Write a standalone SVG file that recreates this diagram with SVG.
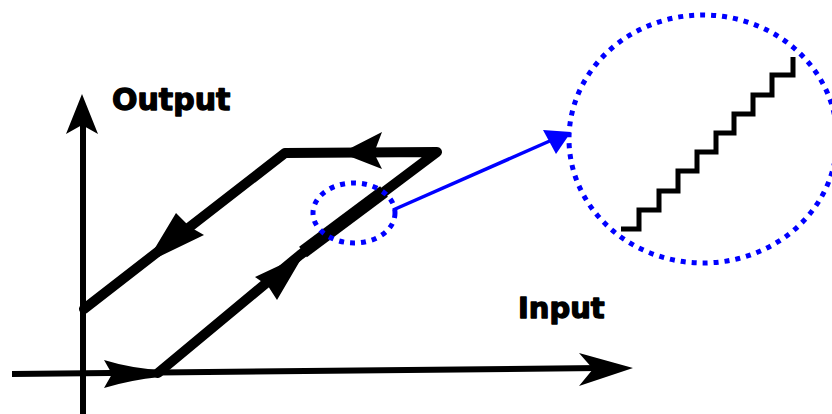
<svg xmlns="http://www.w3.org/2000/svg" width="832" height="414" viewBox="0 0 832 414">
  <style>
    .axis { stroke: #000; stroke-width: 6; fill: none; }
    .loop { stroke: #000; stroke-width: 10; fill: none; stroke-linejoin: round; stroke-linecap: round; }
    .head { fill: #000; stroke: none; }
    .dots { stroke: #0000ff; stroke-width: 5; fill: none; stroke-dasharray: 5 6; }
    .label { font-family: "DejaVu Sans", "Liberation Sans", sans-serif; font-weight: bold; fill: #000; stroke: #000; stroke-width: 1.3; stroke-linejoin: round; }
  </style>
  <rect width="832" height="414" fill="#fff"/>

  <g id="axes">
    <line class="axis" x1="83" y1="414" x2="83" y2="120"/>
    <polygon class="head" points="82,94 98,134 82,125 66,134"/>
    <line class="axis" x1="12" y1="374" x2="600" y2="368"/>
    <polygon class="head" points="633,368 579,386 593,369 579,353"/>
  </g>

  <g id="labels">
    <text class="label" x="112" y="110" font-size="30">Output</text>
    <text class="label" x="518" y="318" font-size="29">Input</text>
  </g>

  <g id="loop">
    <path class="loop" d="M158,373 L300,255 L437,152 L285,153 L84,309"/>
    <line x1="303" y1="252" x2="384" y2="191.5" stroke="#000" stroke-width="13"/>
    <path class="head" d="M104,360 Q130,368 160,370 L160,377 Q130,380 104,388 L112,374 Z"/>
    <path class="head" d="M304,254 L277,300 L268,286 L255,277 Z"/>
    <path class="head" d="M146,263 L176,213 L190,227 L204,235 Z"/>
    <path class="head" d="M341,153 L382,132 L374,153 L382,169 Z"/>
  </g>

  <g id="callout">
    <ellipse class="dots" cx="354" cy="213" rx="41" ry="30"/>
    <line x1="393" y1="210" x2="552" y2="140" stroke="#0000ff" stroke-width="3.5"/>
    <polygon points="571,132 543,130 556,154" fill="#0000ff"/>
    <ellipse class="dots" cx="703" cy="139" rx="134" ry="124"/>
    <path d="M621,229 H639 V210 H659 V191 H678 V171 H697 V152 H716 V133 H734 V114 H753 V95 H772 V75 H793 V57" stroke="#000" stroke-width="5" fill="none"/>
  </g>
</svg>
